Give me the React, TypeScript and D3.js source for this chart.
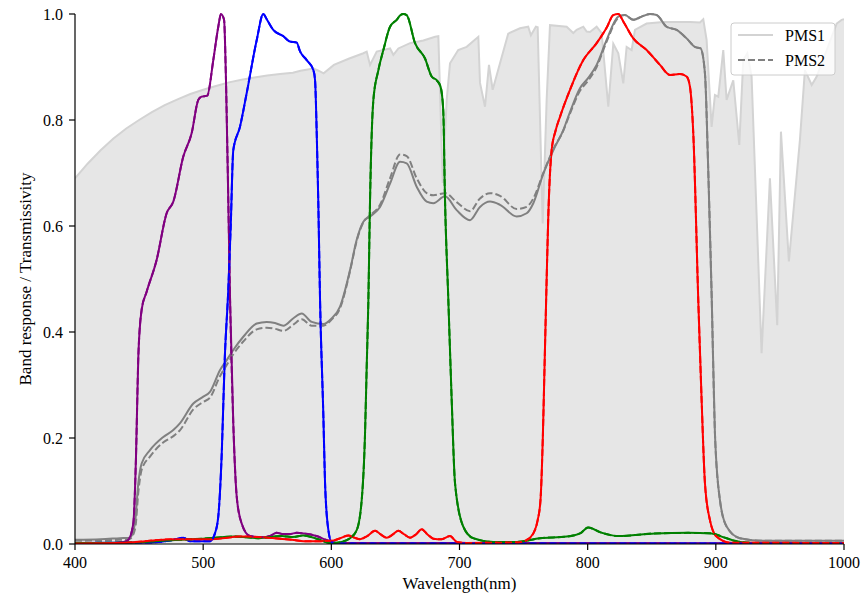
import React from "react";
import * as d3 from "d3";

type P = [number, number];

const xTicks = [400, 500, 600, 700, 800, 900, 1000];
const yTicks = [0, 0.2, 0.4, 0.6, 0.8, 1.0];
const legendLabels = ["PMS1", "PMS2"];

const transmissivity: P[] = [
  [400, 0.69], [410, 0.718], [420, 0.743], [430, 0.765], [440, 0.784], [450, 0.8], [460, 0.815],
  [470, 0.828], [480, 0.839], [490, 0.849], [500, 0.857], [510, 0.864], [520, 0.871], [530, 0.876],
  [540, 0.88], [550, 0.884], [560, 0.887], [570, 0.889], [576, 0.893], [586, 0.897], [590, 0.893],
  [594, 0.888], [602, 0.904], [614, 0.916], [625, 0.926], [627.6, 0.929], [630.2, 0.904],
  [635.4, 0.929], [645.8, 0.935], [648.4, 0.923], [652.3, 0.935], [661.4, 0.945], [671.8, 0.95],
  [681, 0.957], [683.5, 0.958], [686.9, 0.681], [690, 0.838], [692.6, 0.907], [699, 0.932],
  [705.6, 0.938], [714.7, 0.957], [716, 0.87], [719.9, 0.825], [723, 0.904], [725.9, 0.857],
  [731.6, 0.907], [738, 0.963], [747.2, 0.973], [753.6, 0.976], [755.7, 0.96], [759.6, 0.976],
  [761, 0.975], [764.9, 0.605], [768, 0.838], [770.6, 0.979], [783.6, 0.976], [788.8, 0.964],
  [791.4, 0.97], [796.6, 0.976], [799.2, 0.967], [801.8, 0.966], [807, 0.976], [810.9, 0.964],
  [816.1, 0.825], [820, 0.944], [823.9, 0.926], [827.8, 0.869], [830.4, 0.938], [834.3, 0.932],
  [836.9, 0.97], [846, 0.982], [859, 0.985], [872, 0.985], [880, 0.985], [887.6, 0.984],
  [890.2, 0.99], [892.8, 0.951], [896.7, 0.787], [899.3, 0.847], [901.9, 0.844], [905.8, 0.932],
  [908.4, 0.838], [913.6, 0.875], [918.3, 0.753], [921.4, 0.913], [924.6, 0.926], [927.9, 0.882],
  [935.7, 0.36], [942.2, 0.69], [947.9, 0.413], [950.8, 0.778], [957, 0.533], [965.6, 0.762],
  [969.5, 0.894], [974.8, 0.866], [978.7, 0.882], [994.3, 0.982], [998.2, 0.989], [1000, 0.99],
];

const panPMS1: P[] = [
  [400, 0.008], [420, 0.009], [435, 0.011], [442.9, 0.012], [446.8, 0.039], [449.4, 0.115],
  [452, 0.152], [458.5, 0.177], [468.9, 0.202], [476.7, 0.215], [482, 0.228], [492.3, 0.265],
  [500.1, 0.278], [505.3, 0.287], [513.1, 0.328], [518.4, 0.347], [523.5, 0.366], [531.3, 0.391],
  [541.8, 0.416], [549.6, 0.419], [556, 0.417], [562.6, 0.412], [570.4, 0.426], [576.9, 0.435],
  [584.7, 0.419], [593.8, 0.415], [600, 0.425], [606.8, 0.448], [614.6, 0.517], [619.8, 0.574],
  [625, 0.608], [630.2, 0.618], [638, 0.636], [645.8, 0.68], [653.6, 0.721], [658.8, 0.718],
  [666.6, 0.674], [674.4, 0.646], [679.6, 0.643], [688.7, 0.656], [697.8, 0.63], [708.2, 0.611],
  [716, 0.636], [723.8, 0.646], [731.6, 0.64], [744.6, 0.618], [752.4, 0.624], [757.6, 0.643],
  [765.4, 0.699], [773.2, 0.743], [781, 0.781], [786.2, 0.815], [794, 0.86], [800, 0.878],
  [807, 0.904], [814.8, 0.951], [823.9, 0.995], [829.1, 0.998], [835.6, 0.989], [842.1, 0.995],
  [848.6, 1.0], [853.8, 0.998], [861.6, 0.976], [869.4, 0.97], [877.2, 0.954], [883.7, 0.938],
  [888.1, 0.935], [891.5, 0.888], [894, 0.712], [896.7, 0.473], [899.3, 0.209], [903.2, 0.083],
  [908.4, 0.033], [918.8, 0.011], [937, 0.006], [1000, 0.006],
];

const panPMS2: P[] = [
  [400, 0.006], [435, 0.008], [443, 0.01], [447, 0.03], [449.5, 0.1], [452, 0.14], [458.5, 0.165],
  [469, 0.192], [477, 0.204], [482, 0.215], [492.3, 0.254], [500, 0.268], [505.3, 0.276],
  [513, 0.316], [518.4, 0.338], [523.5, 0.358], [531.3, 0.382], [541.8, 0.405], [549.6, 0.408],
  [556, 0.406], [562.6, 0.402], [570.4, 0.414], [576.9, 0.424], [584.7, 0.412], [593.8, 0.412],
  [600, 0.423], [606.8, 0.445], [614.6, 0.515], [619.8, 0.572], [625, 0.607], [630.2, 0.62],
  [638, 0.64], [645.8, 0.69], [653.6, 0.735], [658.8, 0.732], [666.6, 0.69], [674.4, 0.662],
  [679.6, 0.658], [688.7, 0.662], [697.8, 0.645], [708.2, 0.628], [716, 0.652], [723.8, 0.662],
  [731.6, 0.657], [744.6, 0.632], [752.4, 0.636], [757.6, 0.652], [765.4, 0.7], [773.2, 0.745],
  [781, 0.78], [786.2, 0.812], [794, 0.855], [800, 0.873], [807, 0.9], [814.8, 0.948],
  [823.9, 0.993], [829.1, 0.998], [835.6, 0.989], [842.1, 0.995], [848.6, 1.0], [853.8, 0.998],
  [861.6, 0.976], [869.4, 0.97], [877.2, 0.954], [883.7, 0.938], [888.1, 0.935], [891.5, 0.888],
  [894, 0.712], [896.7, 0.473], [899.3, 0.209], [903.2, 0.083], [908.4, 0.033], [918.8, 0.011],
  [937, 0.006], [1000, 0.006],
];

const bandBlue: P[] = [
  [400, 0.002], [430, 0.002], [438, 0.004], [441.6, 0.008], [445.5, 0.039], [447.6, 0.165],
  [449.4, 0.353], [452, 0.442], [455.9, 0.476], [463.7, 0.536], [471.5, 0.624], [476.7, 0.646],
  [484.5, 0.731], [491, 0.775], [496.2, 0.838], [498.8, 0.844], [503.2, 0.846], [507.9, 0.913],
  [511.8, 0.976], [513.9, 1.0], [516.3, 0.989], [517.8, 0.875], [519.6, 0.649], [521, 0.46],
  [523.5, 0.228], [526.2, 0.089], [530, 0.039], [536.5, 0.015], [546.9, 0.0126], [552, 0.015],
  [557.3, 0.021], [562, 0.019], [567.7, 0.019], [573, 0.021], [578, 0.02], [584, 0.018],
  [588.4, 0.015], [596.2, 0.0075], [604, 0.002], [1000, 0.001],
];

const bandGreen: P[] = [
  [400, 0.002], [460, 0.003], [475, 0.007], [482, 0.011], [484.5, 0.012], [489.7, 0.005],
  [505.3, 0.005], [509.2, 0.02], [511.8, 0.052], [514.4, 0.165], [516.9, 0.353], [519.6, 0.48],
  [521.5, 0.6], [523.5, 0.743], [528.7, 0.787], [533.9, 0.85], [541.8, 0.951], [546.9, 1.0],
  [549.6, 0.99], [554.7, 0.97], [562.6, 0.958], [567.7, 0.948], [573, 0.946], [575.5, 0.93],
  [580.8, 0.913], [586, 0.894], [587.3, 0.875], [588.6, 0.775], [589.8, 0.649], [591.2, 0.46],
  [593.8, 0.24], [595.1, 0.115], [597.7, 0.026], [600.3, 0.003], [610, 0.001], [1000, 0.001],
];

const bandRed: P[] = [
  [400, 0.002], [439, 0.0025], [478, 0.0075], [500, 0.01], [524.8, 0.014], [543, 0.011],
  [561.3, 0.015], [570, 0.013], [578, 0.016], [589.8, 0.009], [597.7, 0.0025], [601.6, 0.002],
  [608, 0.004], [614.6, 0.011], [619.8, 0.026], [623.7, 0.083], [626.3, 0.209], [627.6, 0.335],
  [628.9, 0.46], [630.2, 0.649], [632.8, 0.838], [636.7, 0.894], [640.6, 0.932], [645.8, 0.976],
  [651, 0.989], [654, 0.998], [656.2, 1.0], [658.8, 0.998], [665.3, 0.945], [673.1, 0.916],
  [678.3, 0.882], [682.2, 0.875], [685.2, 0.863], [687.3, 0.819], [688.7, 0.649], [691.3, 0.46],
  [693.9, 0.272], [696.5, 0.115], [702.9, 0.033], [710.7, 0.011], [726.3, 0.004], [744.6, 0.004],
  [762.8, 0.011], [783.6, 0.014], [794, 0.02], [800.4, 0.031], [810, 0.022], [823.9, 0.015],
  [852.5, 0.02], [878.5, 0.021], [896.7, 0.02], [904.5, 0.014], [917.5, 0.0045], [930, 0.002],
  [1000, 0.002],
];

const bandNir: P[] = [
  [400, 0.001], [439, 0.0025], [478, 0.009], [504, 0.009], [530, 0.014], [556, 0.011],
  [569, 0.008], [582, 0.005], [600.3, 0.006], [606, 0.01], [613.3, 0.016], [618, 0.012],
  [622.4, 0.009], [628, 0.015], [634.1, 0.025], [638.5, 0.018], [643.2, 0.012], [648, 0.018],
  [652.3, 0.025], [657, 0.018], [661.4, 0.012], [666, 0.018], [670.5, 0.028], [675, 0.018],
  [679.6, 0.01], [686, 0.009], [692.6, 0.015], [697.8, 0.004], [705.6, 0.002], [745, 0.003],
  [752.4, 0.0075], [757.6, 0.02], [761, 0.045], [763.2, 0.083], [765, 0.2], [766.5, 0.35],
  [768, 0.5], [769.3, 0.62], [771.9, 0.743], [775, 0.78], [778.4, 0.806], [786.2, 0.857],
  [796.6, 0.913], [807, 0.945], [815, 0.975], [820, 0.998], [823.9, 1.0], [828, 0.985],
  [835.6, 0.954], [846, 0.932], [856.4, 0.904], [864.2, 0.885], [872, 0.887], [877.2, 0.882],
  [879.8, 0.863], [882.4, 0.775], [886.3, 0.46], [888.9, 0.272], [891.5, 0.115], [895.4, 0.045],
  [900.6, 0.014], [911, 0.0025], [1000, 0.002],
];

const W = 861;
const H = 597;
const M = { left: 75, right: 844, top: 14, bottom: 544 };
const FONT = "'Liberation Serif', 'Times New Roman', 'DejaVu Serif', serif";

export default function App() {
  const x = d3.scaleLinear().domain([400, 1000]).range([M.left, M.right]);
  const y = d3.scaleLinear().domain([0, 1]).range([M.bottom, M.top]);

  const line = d3
    .line<P>()
    .x((d) => x(d[0]))
    .y((d) => y(d[1]))
    .curve(d3.curveMonotoneX);
  const tLine = d3
    .line<P>()
    .x((d) => x(d[0]))
    .y((d) => y(d[1]));
  const tArea = d3
    .area<P>()
    .x((d) => x(d[0]))
    .y0(y(0))
    .y1((d) => y(d[1]));

  const pms1 = [
    { data: panPMS1, color: "#808080" },
    { data: bandBlue, color: "#800080" },
    { data: bandGreen, color: "#0000ff" },
    { data: bandRed, color: "#008000" },
    { data: bandNir, color: "#ff0000" },
  ];
  const pms2 = [
    { data: panPMS2, color: "#808080" },
    { data: bandBlue, color: "#800080" },
    { data: bandGreen, color: "#0000ff" },
    { data: bandRed, color: "#008000" },
    { data: bandNir, color: "#ff0000" },
  ];

  return (
    <svg
      width={W}
      height={H}
      style={{ position: "absolute", left: 0, top: 0, background: "#fff" }}
      fontFamily={FONT}
    >
      <defs>
        <clipPath id="plot">
          <rect x={M.left} y={M.top - 2} width={M.right - M.left} height={M.bottom - M.top + 2} />
        </clipPath>
      </defs>
      <g clipPath="url(#plot)">
        <path d={tArea(transmissivity) || ""} fill="#e6e6e6" />
        <path d={tLine(transmissivity) || ""} fill="none" stroke="#d3d3d3" strokeWidth={2} />
        {pms1.map((s, i) => (
          <path key={"a" + i} d={line(s.data) || ""} fill="none" stroke={s.color} strokeWidth={2} />
        ))}
        {pms2.map((s, i) => (
          <path
            key={"b" + i}
            d={line(s.data) || ""}
            fill="none"
            stroke={s.color}
            strokeWidth={2}
            strokeDasharray="7,3"
          />
        ))}
      </g>
      {/* axes */}
      <line x1={M.left} x2={M.left} y1={M.top} y2={M.bottom} stroke="#000" strokeWidth={1.2} />
      <line x1={M.left} x2={M.right} y1={M.bottom} y2={M.bottom} stroke="#000" strokeWidth={1.2} />
      {xTicks.map((t) => (
        <g key={"x" + t}>
          <line x1={x(t)} x2={x(t)} y1={M.bottom} y2={M.bottom + 6} stroke="#000" strokeWidth={1.2} />
          <text x={x(t)} y={568} textAnchor="middle" fontSize={16} fill="#000">
            {t}
          </text>
        </g>
      ))}
      {yTicks.map((t) => (
        <g key={"y" + t}>
          <line x1={M.left - 6} x2={M.left} y1={y(t)} y2={y(t)} stroke="#000" strokeWidth={1.2} />
          <text x={M.left - 12} y={y(t) + 5.5} textAnchor="end" fontSize={16} fill="#000">
            {t.toFixed(1)}
          </text>
        </g>
      ))}
      <text x={(M.left + M.right) / 2} y={589} textAnchor="middle" fontSize={17} fill="#000">
        Wavelength(nm)
      </text>
      <text
        transform={`translate(31,${(M.top + M.bottom) / 2}) rotate(-90)`}
        textAnchor="middle"
        fontSize={17}
        fill="#000"
      >
        Band response / Transmissivity
      </text>
      {/* legend */}
      <g>
        <rect x={731} y={23} width={104} height={52} rx={3} fill="#fff" fillOpacity={0.8} stroke="#cccccc" strokeWidth={1} />
        <line x1={738} x2={773} y1={35} y2={35} stroke="#d3d3d3" strokeWidth={2} />
        <line x1={738} x2={773} y1={60} y2={60} stroke="#808080" strokeWidth={2} strokeDasharray="7,3" />
        <text x={785} y={41} fontSize={16} fill="#000">{legendLabels[0]}</text>
        <text x={785} y={66} fontSize={16} fill="#000">{legendLabels[1]}</text>
      </g>
    </svg>
  );
}
